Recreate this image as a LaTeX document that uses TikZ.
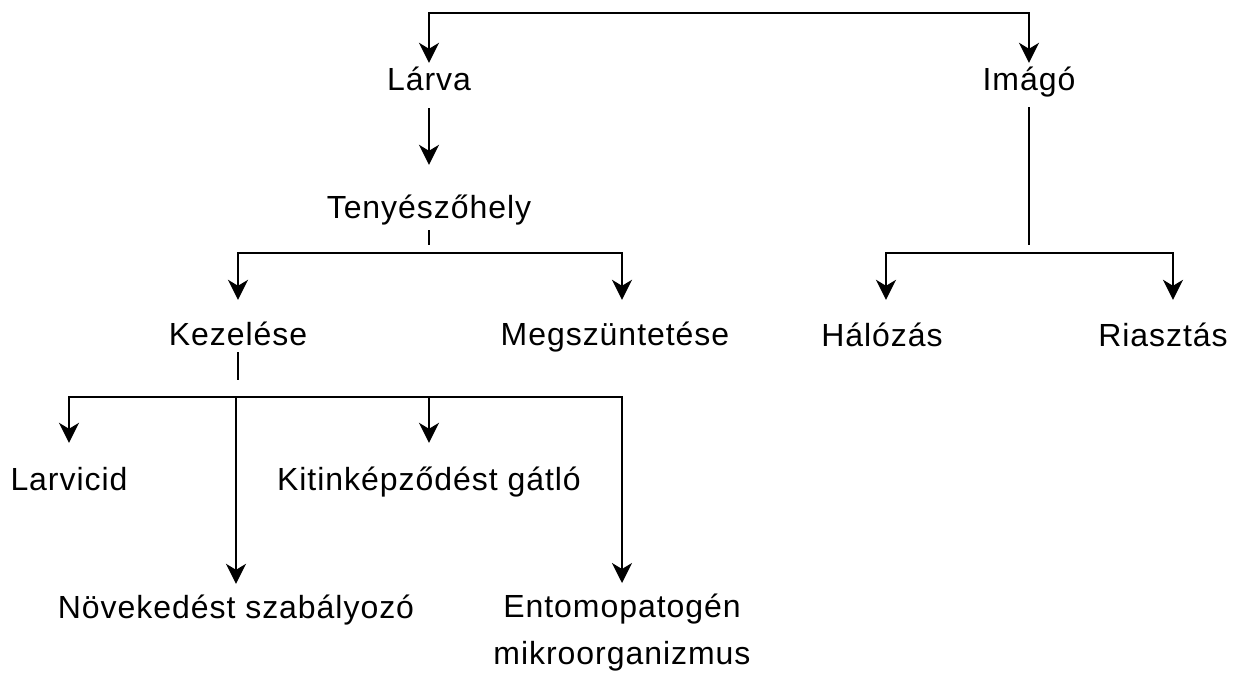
\documentclass[tikz,border=0pt]{standalone}
\usepackage{fontspec}
\setmainfont{Liberation Sans}[LetterSpace=3]
\usetikzlibrary{arrows.meta, calc}

\tikzset{
    lbl/.style={anchor=base, inner sep=0pt, text height=23pt, text depth=7pt,
        font=\fontsize{32}{47}\selectfont},
    ln/.style={line width=2pt},
    arr/.style={ln, -{Stealth[length=20pt, width=20pt, inset=6pt]}}
}

\begin{document}
\begin{tikzpicture}[x=1pt, y=-1pt]
                    \useasboundingbox (0,0) rectangle (1239,673);

                    % fajok
                    \node[lbl] (larva) at (429, 90) {Lárva};
                    \node[lbl] (imago) at (1029, 90) {Imágó};
                    \node[lbl] (teny) at (429, 218) {Tenyészőhely};

                    % tenyeszohely ag
                    \node[lbl] (kez) at (238, 345) {Kezelése};
                    \node[lbl] (megsz) at (615, 345) {Megszüntetése};

                    % imago ag
                    \node[lbl] (halo) at (882, 346) {Hálózás};
                    \node[lbl] (riaszt) at (1163, 346) {Riasztás};

                    % kezeles ag
                    \node[lbl] (larvicid) at (69, 490) {Larvicid};
                    \node[lbl] (kitin) at (429, 490) {Kitinképződést gátló};
                    \node[lbl] (noveked) at (236, 618) {Növekedést szabályozó};
                    \node[lbl, anchor=north, text height=, text depth=, align=center] (entomo) at (622, 594) {Entomopatogén\\mikroorganizmus};

                    \coordinate (top) at (729, 13);
                    \coordinate (tj) at (429, 253);
                    \coordinate (ij) at (1029, 253);
                    \coordinate (kj) at (237, 397);

                    \draw[arr, shorten >=4pt] (top) -| (larva.north);
                    \draw[arr, shorten >=4pt] (top) -| (imago.north);
                    \draw[arr, shorten <=11pt, shorten >=30pt] (larva.south) -- (teny.north);

                    \draw[ln, shorten <=5pt] (teny.south) -- ++(0, 20);
                    \draw[arr, shorten >=22pt] (tj) -| (kez.north);
                    \draw[arr, shorten >=22pt] (tj) -| ([xshift=7pt]megsz.north);

                    \draw[ln, shorten <=10pt] (imago.south) -- ++(0, 148);
                    \draw[arr, shorten >=23pt] (ij) -| ([xshift=4pt]halo.north);
                    \draw[arr, shorten >=23pt] (ij) -| ([xshift=10pt]riaszt.north);

                    \draw[ln] (kez.south) -- ++(0, 28);
                    \foreach \n in {larvicid, kitin} {
                        \draw[arr, shorten >=24pt] (kj) -| (\n.north);
                    }
                    \draw[arr, shorten >=11pt] (kj) -| (noveked.north);
                    \draw[arr, shorten >=11pt] (kj) -| (entomo.north);
                \end{tikzpicture}
\end{document}
